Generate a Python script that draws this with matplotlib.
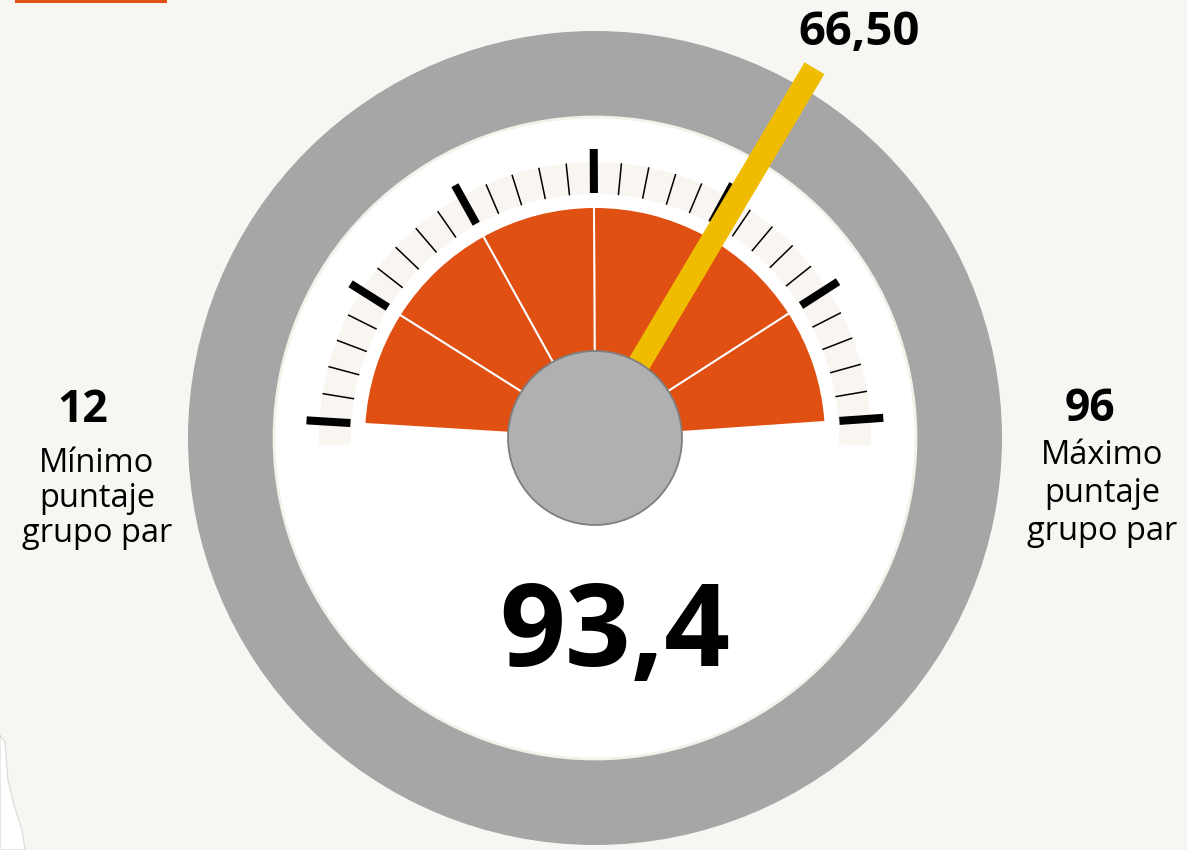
import numpy as np
import matplotlib
matplotlib.use("Agg")
import matplotlib.pyplot as plt
from matplotlib.patches import Wedge, Circle, Rectangle, Polygon

# =====================
# DATA
# =====================
score = "93,4"
needle_value = 66.50
needle_label = "66,50"
min_value = 12
max_value = 96
min_label = ["Mínimo", "puntaje", "grupo par"]
max_label = ["Máximo", "puntaje", "grupo par"]

# gauge dial scale used for the needle
dial_min, dial_max = 0, 100

# sector edges (degrees) of the orange dial, left to right
sector_edges = [176.5, 147.75, 119.0, 90.25, 61.5, 32.75, 4.0]
minor_per_major = 5

# =====================
# STYLE
# =====================
BG = "#f8f6f2"
GRAY = "#a6a6a6"
ORANGE = "#e05012"
YELLOW = "#f0bc00"
HUB = "#b0b0b0"
BAND = "#f9f6f1"

W, H = 1187, 850
cx, cy = 595, 850 - 438

plt.rcParams['font.family'] = ['Open Sans', 'DejaVu Sans']

fig = plt.figure(figsize=(W / 100, H / 100), dpi=100)
fig.patch.set_facecolor(BG)
ax = fig.add_axes([0, 0, 1, 1])
ax.set_xlim(0, W)
ax.set_ylim(0, H)
ax.axis("off")
ax.set_facecolor(BG)


def img_y(y):
    return H - y


# legend remnant (top-left)
ax.add_patch(Rectangle((15, img_y(3)), 152, 3.5, color=ORANGE, lw=0))

# torn paper corner bottom-left
ax.add_patch(Polygon([(0, img_y(735)), (5, img_y(742)), (8, img_y(780)),
                      (14, img_y(805)), (22, img_y(830)), (25, 0), (0, 0)],
                     closed=True, facecolor="white", edgecolor="#dcd9d4", lw=0.8))

# outer ring + inner disk
ax.add_patch(Circle((cx, cy), 407, color=GRAY, lw=0))
ax.add_patch(Circle((cx, cy), 321, facecolor="white", edgecolor="#f4f0ea", lw=2))

# tick band
ax.add_patch(Wedge((cx, cy), 276, -1.5, 181.5, width=32, color=BAND, lw=0))

# orange sectors
edges = sector_edges[::-1]
for a0, a1 in zip(edges[:-1], edges[1:]):
    ax.add_patch(Wedge((cx, cy), 231, a0, a1, facecolor=ORANGE,
                       edgecolor="white", lw=1.4))

# ticks
n_ticks = (len(sector_edges) - 1) * minor_per_major + 1
tick_angles = np.linspace(sector_edges[0], sector_edges[-1], n_ticks)
for i, a in enumerate(tick_angles):
    t = np.radians(a)
    if i % minor_per_major == 0:
        r0, r1, lw = 245, 289, 5.8
    else:
        r0, r1, lw = 244, 276, 1.1
    ax.plot([cx + r0 * np.cos(t), cx + r1 * np.cos(t)],
            [cy + r0 * np.sin(t), cy + r1 * np.sin(t)],
            color="black", lw=lw, solid_capstyle="butt", zorder=3)

# needle
frac = (needle_value - dial_min) / (dial_max - dial_min)
ang = np.radians(183 - frac * 186)
d = np.array([np.cos(ang), np.sin(ang)])
p = np.array([-d[1], d[0]])
half = 11.5
c = np.array([cx, cy])
pts = [c + 60 * d + half * p, c + 430 * d + half * p,
       c + 430 * d - half * p, c + 60 * d - half * p]
ax.add_patch(Polygon(pts, closed=True, color=YELLOW, lw=0, zorder=4))

# hub
ax.add_patch(Circle((cx, cy), 87, facecolor=HUB, edgecolor="#7f7f7f",
                    lw=1.3, zorder=5))

# texts
ax.text(615, img_y(666), score, ha="center", va="baseline",
        fontsize=83, fontweight="bold", color="black", zorder=6)
ax.text(859, img_y(45), needle_label, ha="center", va="baseline",
        fontsize=34, fontweight="bold", color="black")
ax.text(83, img_y(422), str(min_value), ha="center", va="baseline",
        fontsize=32, fontweight="bold", color="black")
ax.text(1090, img_y(421), str(max_value), ha="center", va="baseline",
        fontsize=32, fontweight="bold", color="black")

for k, line in enumerate(min_label):
    ax.text(97, img_y(472 + 35 * k), line, ha="center", va="baseline",
            fontsize=23.5, color="black")
for k, line in enumerate(max_label):
    ax.text(1102, img_y(464 + 38 * k), line, ha="center", va="baseline",
            fontsize=23.5, color="black")

fig.savefig("out.png", dpi=100, facecolor=BG)
